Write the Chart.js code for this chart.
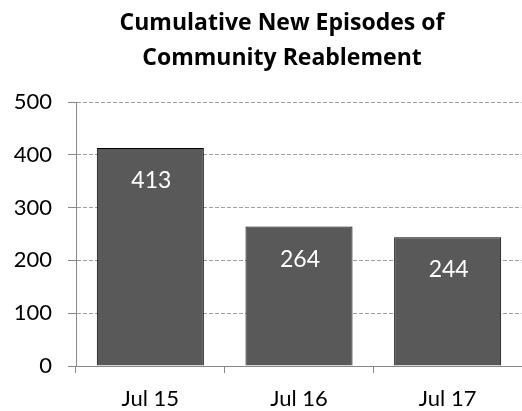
<!DOCTYPE html>
<html>
<head>
<meta charset="utf-8">
<script src="https://cdn.jsdelivr.net/npm/chart.js@4/dist/chart.umd.min.js"></script>
<style>
  html, body { margin: 0; padding: 0; background: #fff; }
  #wrap { width: 522px; height: 411px; }
</style>
</head>
<body>
<div id="wrap"><canvas id="c" width="522" height="411"></canvas></div>
<script>
// chart data
const categories = ['Jul 15', 'Jul 16', 'Jul 17'];
const episodes = [413, 264, 244];
const yTicks = [0, 100, 200, 300, 400, 500];
const titleLines = ['Cumulative New Episodes of', 'Community Reablement'];

const FONT = 'Lato, "Open Sans", sans-serif';

// draws the two-line title and the white value labels inside the bars
const extras = {
  id: 'extras',
  afterDraw(chart) {
    const ctx = chart.ctx;
    ctx.save();
    ctx.fillStyle = '#000';
    ctx.font = 'bold 23px "Open Sans", sans-serif';
    ctx.textAlign = 'center';
    ctx.textBaseline = 'alphabetic';
    titleLines.forEach((t, i) => ctx.fillText(t, 282, 30 + i * 35));

    ctx.fillStyle = '#fff';
    ctx.font = '23px ' + FONT;
    chart.getDatasetMeta(0).data.forEach((bar, i) => {
      ctx.fillText(String(episodes[i]), bar.x + 1, bar.y + 40);
    });
    ctx.restore();
  }
};

new Chart(document.getElementById('c'), {
  type: 'bar',
  data: {
    labels: categories,
    datasets: [{
      data: episodes,
      backgroundColor: '#595959',
      borderColor: '#000',
      borderWidth: 1,
      categoryPercentage: 1,
      barPercentage: 0.72
    }]
  },
  options: {
    responsive: false,
    animation: false,
    layout: { padding: { top: 102, right: 0, left: 0, bottom: 0 } },
    plugins: { legend: { display: false }, tooltip: { enabled: false } },
    scales: {
      x: {
        afterFit(s) { s.height = 45; },
        grid: { drawOnChartArea: false, offset: true, tickLength: 7, color: '#888' },
        border: { color: '#888' },
        ticks: { color: '#000', font: { size: 22, family: FONT }, padding: 13 }
      },
      y: {
        min: 0,
        max: 500,
        afterFit(s) { s.width = 76; },
        afterBuildTicks(s) { s.ticks = yTicks.map(v => ({ value: v })); },
        grid: { color: '#a0a0a0', tickColor: '#888', tickLength: 8 },
        border: { color: '#888', dash: [4, 2] },
        ticks: { color: '#000', font: { size: 22, family: FONT }, padding: 16 }
      }
    }
  },
  plugins: [extras]
});
</script>
</body>
</html>
